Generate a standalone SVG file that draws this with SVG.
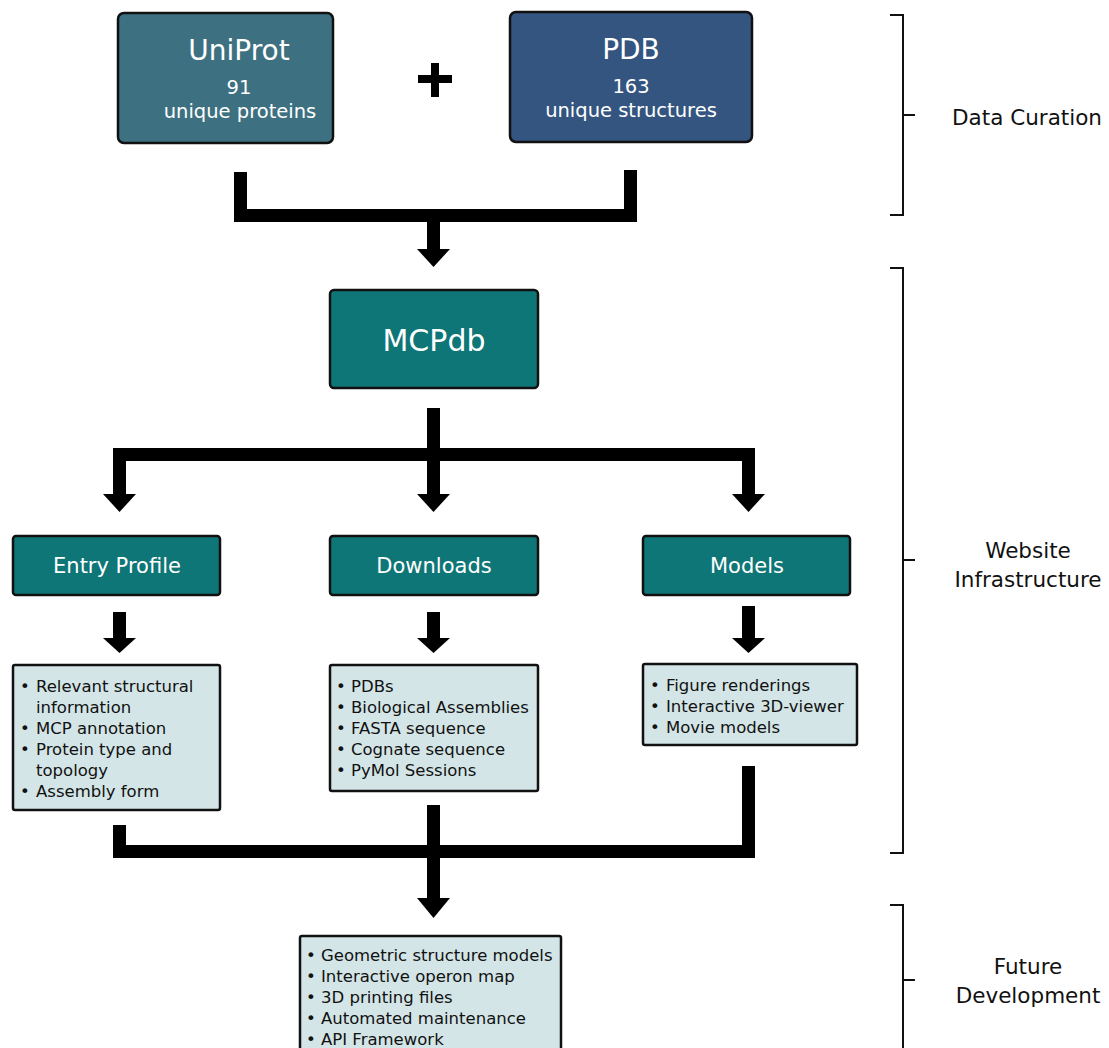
<svg xmlns="http://www.w3.org/2000/svg" width="1109" height="1048" viewBox="0 0 1109 1048">
<style>
text{font-family:"DejaVu Sans","Liberation Sans",sans-serif;}
.box{stroke:#111;stroke-width:2.5;}
.head{fill:#fff;text-anchor:middle;}
.list{fill:#d3e5e7;stroke:#111;stroke-width:2.5;}
.li{font-size:16.5px;fill:#111;}
.lab{font-size:21.5px;fill:#111;text-anchor:middle;}
.br{fill:none;stroke:#111;stroke-width:2;}
.conn{fill:#000;}
</style>
<rect width="1109" height="1048" fill="#fff"/>
<g id="uniprot">
<rect class="box" x="118" y="13" width="215" height="130" rx="6" fill="#3d7181"/>
<text class="head" x="239" y="60" font-size="28">UniProt</text>
<text class="head" x="239" y="94" font-size="19.5">91</text>
<text class="head" x="240" y="118" font-size="19.5">unique proteins</text>
</g>
<g id="plus"><rect x="418" y="75" width="34" height="8" fill="#000"/><rect x="431" y="63" width="8" height="34" fill="#000"/></g>
<g id="pdb">
<rect class="box" x="510" y="12" width="242" height="130" rx="6" fill="#33557f"/>
<text class="head" x="631" y="59" font-size="28">PDB</text>
<text class="head" x="631" y="93" font-size="19.5">163</text>
<text class="head" x="631" y="117" font-size="19.5">unique structures</text>
</g>
<g id="mcpdb">
<rect class="box" x="330" y="290" width="208" height="98" rx="4" fill="#0e7676"/>
<text class="head" x="434" y="351" font-size="30">MCPdb</text>
</g>
<g id="entry">
<rect class="box" x="13" y="536" width="207" height="59" rx="3" fill="#0e7676"/>
<text class="head" x="117" y="573" font-size="21">Entry Profile</text>
</g>
<g id="downloads">
<rect class="box" x="330" y="536" width="208" height="59" rx="3" fill="#0e7676"/>
<text class="head" x="434" y="573" font-size="21">Downloads</text>
</g>
<g id="models">
<rect class="box" x="643" y="536" width="207" height="59" rx="3" fill="#0e7676"/>
<text class="head" x="747" y="573" font-size="21">Models</text>
</g>
<g id="entry-list">
<rect class="list" x="13" y="665" width="207" height="145" rx="2"/>
<text class="li" x="20" y="692">•</text><text class="li" x="36" y="692">Relevant structural</text>
<text class="li" x="36" y="713">information</text>
<text class="li" x="20" y="734">•</text><text class="li" x="36" y="734">MCP annotation</text>
<text class="li" x="20" y="755">•</text><text class="li" x="36" y="755">Protein type and</text>
<text class="li" x="36" y="776">topology</text>
<text class="li" x="20" y="797">•</text><text class="li" x="36" y="797">Assembly form</text>
</g>
<g id="downloads-list">
<rect class="list" x="330" y="665" width="208" height="126" rx="2"/>
<text class="li" x="336" y="692">•</text><text class="li" x="351" y="692">PDBs</text>
<text class="li" x="336" y="713">•</text><text class="li" x="351" y="713">Biological Assemblies</text>
<text class="li" x="336" y="734">•</text><text class="li" x="351" y="734">FASTA sequence</text>
<text class="li" x="336" y="755">•</text><text class="li" x="351" y="755">Cognate sequence</text>
<text class="li" x="336" y="776">•</text><text class="li" x="351" y="776">PyMol Sessions</text>
</g>
<g id="models-list">
<rect class="list" x="643" y="664" width="214" height="81" rx="2"/>
<text class="li" x="650" y="691">•</text><text class="li" x="666" y="691">Figure renderings</text>
<text class="li" x="650" y="712">•</text><text class="li" x="666" y="712">Interactive 3D-viewer</text>
<text class="li" x="650" y="733">•</text><text class="li" x="666" y="733">Movie models</text>
</g>
<g id="future-list">
<rect class="list" x="300" y="936" width="261" height="120" rx="2"/>
<text class="li" x="306" y="961">•</text><text class="li" x="321" y="961">Geometric structure models</text>
<text class="li" x="306" y="982">•</text><text class="li" x="321" y="982">Interactive operon map</text>
<text class="li" x="306" y="1003">•</text><text class="li" x="321" y="1003">3D printing files</text>
<text class="li" x="306" y="1024">•</text><text class="li" x="321" y="1024">Automated maintenance</text>
<text class="li" x="306" y="1045">•</text><text class="li" x="321" y="1045">API Framework</text>
</g>
<g id="connectors" class="conn">
<rect x="234" y="172" width="13" height="50"/>
<rect x="624" y="170" width="13" height="52"/>
<rect x="234" y="209" width="403" height="13"/>
<rect x="427" y="222" width="13" height="28"/>
<polygon points="417,249 450,249 433.5,267"/>
<rect x="427" y="408" width="13" height="53"/>
<rect x="113" y="448" width="642" height="13"/>
<rect x="113" y="461" width="13" height="34"/>
<polygon points="103,494 136,494 119.5,512"/>
<rect x="427" y="461" width="13" height="34"/>
<polygon points="417,494 450,494 433.5,512"/>
<rect x="742" y="461" width="13" height="34"/>
<polygon points="732,494 765,494 748.5,512"/>
<rect x="113" y="612" width="13" height="27"/>
<polygon points="103,638 136,638 119.5,653"/>
<rect x="427" y="612" width="13" height="27"/>
<polygon points="417,638 450,638 433.5,653"/>
<rect x="742" y="606" width="13" height="33"/>
<polygon points="732,638 765,638 748.5,653"/>
<rect x="113" y="825" width="13" height="33"/>
<rect x="742" y="766" width="13" height="92"/>
<rect x="113" y="845" width="642" height="13"/>
<rect x="427" y="805" width="13" height="95"/>
<polygon points="417,898 450,898 433.5,918"/>
</g>
<g id="bracket-data">
<path class="br" d="M890 15 H903 V215 H890 M903 115 H915"/>
<text class="lab" x="1027" y="125" font-size="23">Data Curation</text>
</g>
<g id="bracket-web">
<path class="br" d="M890 268 H903 V853 H890 M903 560 H915"/>
<text class="lab" x="1028" y="558">Website</text>
<text class="lab" x="1028" y="587">Infrastructure</text>
</g>
<g id="bracket-future">
<path class="br" d="M890 905 H903 V1050 M903 980 H915"/>
<text class="lab" x="1028" y="974">Future</text>
<text class="lab" x="1028" y="1003">Development</text>
</g>
</svg>
